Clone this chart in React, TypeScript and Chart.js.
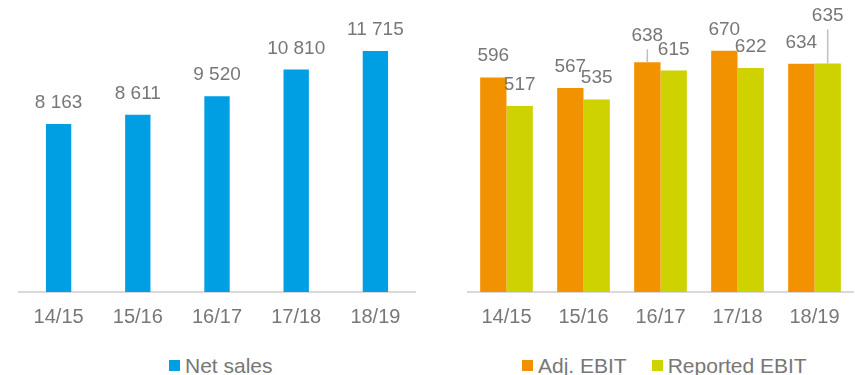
import React, { useEffect, useRef } from "react";
import { Chart, registerables } from "chart.js";
Chart.register(...registerables);

const categories = ["14/15", "15/16", "16/17", "17/18", "18/19"];
const netSales = [8163, 8611, 9520, 10810, 11715];
const adjEbit = [596, 567, 638, 670, 634];
const reportedEbit = [517, 535, 615, 622, 635];
const netSalesAxisMax = 14000;
const ebitAxisMax = 800;

const BLUE = "#009FE3";
const ORANGE = "#F39200";
const GREEN = "#CDD200";
const TEXT = "#777777";
const AXIS = "#D9D9D9";
const FONT = "'Liberation Sans', Arial, sans-serif";

// extra lift (px) for labels drawn with a leader line: `${datasetIndex}-${index}`
const ebitLabelLift: Record<string, number> = { "0-2": 5, "1-4": 26 };

function fmt(v: number): string {
  return String(v).replace(/\B(?=(\d{3})+(?!\d))/g, " ");
}

const labelPlugin = {
  id: "barLabels",
  afterDatasetsDraw(chart: any, _args: any, opts: any) {
    const ctx = chart.ctx;
    const lifts = (opts && opts.lifts) || {};
    ctx.save();
    ctx.font = `${opts.size || 19}px ${FONT}`;
    ctx.fillStyle = TEXT;
    ctx.textAlign = "center";
    ctx.textBaseline = "alphabetic";
    chart.data.datasets.forEach((ds: any, di: number) => {
      const meta = chart.getDatasetMeta(di);
      meta.data.forEach((bar: any, i: number) => {
        const lift = lifts[`${di}-${i}`] || 0;
        const baseline = bar.y - 16 - lift;
        ctx.fillText(fmt(ds.data[i]), bar.x, baseline);
        if (lift) {
          ctx.strokeStyle = "#BFBFBF";
          ctx.lineWidth = 1.5;
          ctx.beginPath();
          ctx.moveTo(bar.x, baseline + 8);
          ctx.lineTo(bar.x, bar.y);
          ctx.stroke();
        }
      });
    });
    ctx.restore();
  },
};

function makeOptions(max: number, padding: any, lifts: Record<string, number>) {
  return {
    responsive: false,
    animation: false as const,
    layout: { padding },
    plugins: {
      legend: { display: false },
      tooltip: { enabled: false },
      barLabels: { size: 19, lifts },
    },
    scales: {
      x: {
        grid: { display: false, drawTicks: false },
        border: { display: true, color: AXIS, width: 2 },
        ticks: { color: TEXT, font: { family: FONT, size: 20 }, padding: 13 },
      },
      y: { display: false, min: 0, max },
    },
  };
}

function SalesChart() {
  const ref = useRef<HTMLCanvasElement>(null);
  useEffect(() => {
    const chart = new Chart(ref.current!, {
      type: "bar",
      data: {
        labels: categories,
        datasets: [
          {
            label: "Net sales",
            data: netSales,
            backgroundColor: BLUE,
            categoryPercentage: 1,
            barPercentage: 0.32,
          },
        ],
      },
      options: makeOptions(netSalesAxisMax, { left: 19, right: 15, top: 4, bottom: 0 }, {}) as any,
      plugins: [labelPlugin as any],
    });
    return () => chart.destroy();
  }, []);
  return (
    <canvas
      ref={ref}
      width={430}
      height={342}
      style={{ position: "absolute", left: 0, top: 0, display: "block" }}
    />
  );
}

function EbitChart() {
  const ref = useRef<HTMLCanvasElement>(null);
  useEffect(() => {
    const chart = new Chart(ref.current!, {
      type: "bar",
      data: {
        labels: categories,
        datasets: [
          {
            label: "Adj. EBIT",
            data: adjEbit,
            backgroundColor: ORANGE,
            categoryPercentage: 0.684,
            barPercentage: 1,
          },
          {
            label: "Reported EBIT",
            data: reportedEbit,
            backgroundColor: GREEN,
            categoryPercentage: 0.684,
            barPercentage: 1,
          },
        ],
      },
      options: makeOptions(ebitAxisMax, { left: 38, right: 2, top: 4, bottom: 0 }, ebitLabelLift) as any,
      plugins: [labelPlugin as any],
    });
    return () => chart.destroy();
  }, []);
  return (
    <canvas
      ref={ref}
      width={425}
      height={342}
      style={{ position: "absolute", left: 430, top: 0, display: "block" }}
    />
  );
}

function LegendItem({ color, label, gapAfter }: { color: string; label: string; gapAfter?: number }) {
  return (
    <div style={{ display: "flex", alignItems: "center", marginRight: gapAfter || 0 }}>
      <div style={{ width: 11, height: 11, background: color, marginRight: 5 }} />
      <span>{label}</span>
    </div>
  );
}

export default function App() {
  useEffect(() => {
    document.body.style.margin = "0";
  }, []);
  const legendStyle: React.CSSProperties = {
    position: "absolute",
    top: 355,
    display: "flex",
    alignItems: "center",
    fontFamily: FONT,
    fontSize: 21,
    lineHeight: "21px",
    color: TEXT,
    whiteSpace: "nowrap",
  };
  return (
    <div
      style={{
        position: "fixed",
        left: 0,
        top: 0,
        width: 855,
        height: 375,
        overflow: "hidden",
        background: "#ffffff",
      }}
    >
      <SalesChart />
      <EbitChart />
      <div style={{ ...legendStyle, left: 169 }}>
        <LegendItem color={BLUE} label="Net sales" />
      </div>
      <div style={{ ...legendStyle, left: 522 }}>
        <LegendItem color={ORANGE} label="Adj. EBIT" gapAfter={25} />
        <LegendItem color={GREEN} label="Reported EBIT" />
      </div>
    </div>
  );
}
